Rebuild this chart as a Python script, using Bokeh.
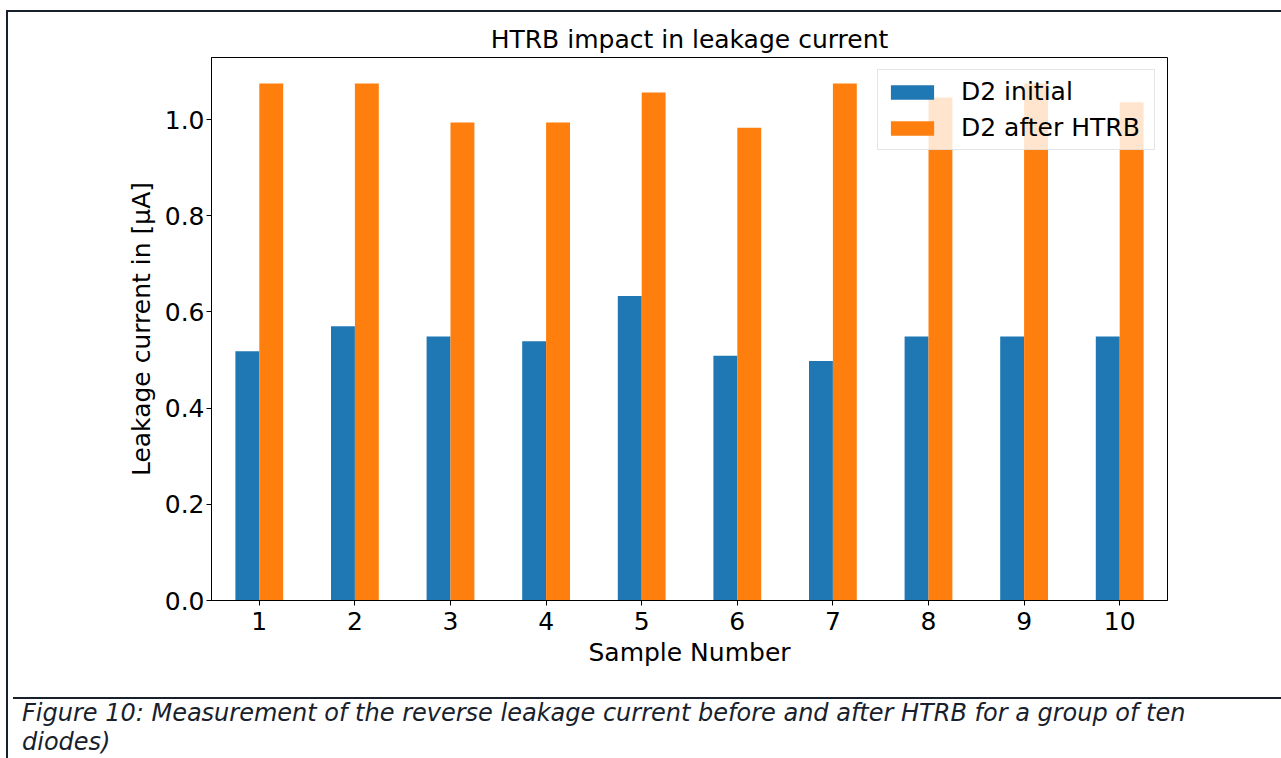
from bokeh.plotting import figure
from bokeh.models import (ColumnDataSource, FactorRange, Range1d, FixedTicker,
                          NumeralTickFormatter, Div)
from bokeh.layouts import column
from bokeh.transform import dodge
from bokeh.embed import file_html
from bokeh.resources import INLINE

# ---- data ----
samples = ["1", "2", "3", "4", "5", "6", "7", "8", "9", "10"]
d2_initial = [0.518, 0.570, 0.549, 0.539, 0.633, 0.509, 0.498, 0.549, 0.549, 0.549]
d2_after_htrb = [1.075, 1.075, 0.994, 0.994, 1.056, 0.983, 1.075, 1.046, 1.075, 1.036]
series_names = ["D2 initial", "D2 after HTRB"]
series_colors = ["#1f77b4", "#ff7f0e"]
y_ticks = [0.0, 0.2, 0.4, 0.6, 0.8, 1.0]
title_text = "HTRB impact in leakage current"
x_label = "Sample Number"
y_label = "Leakage current in [\u03bcA]"
caption_lines = [
    "Figure 10: Measurement of the reverse leakage current before and after HTRB for a group of ten",
    "diodes)",
]

FONT = "DejaVu Sans"
FS = "25px"
DARK = "#18212b"

src = ColumnDataSource(dict(sample=samples, initial=d2_initial, after=d2_after_htrb))

p = figure(width=1273, height=680,
           x_range=FactorRange(factors=samples, range_padding=0),
           y_range=Range1d(0, 1.129),
           output_backend="svg", toolbar_location=None,
           min_border_left=203, min_border_right=114,
           min_border_top=45, min_border_bottom=92)

p.vbar(x=dodge("sample", -0.125, range=p.x_range), top="initial", width=0.25,
       source=src, color=series_colors[0], line_color=None, legend_label=series_names[0])
p.vbar(x=dodge("sample", 0.125, range=p.x_range), top="after", width=0.25,
       source=src, color=series_colors[1], line_color=None, legend_label=series_names[1])

p.xgrid.visible = False
p.ygrid.visible = False
p.background_fill_color = "white"
p.border_fill_color = "white"
p.outline_line_color = "black"
p.outline_line_alpha = 1
p.outline_line_width = 1

p.title.text = title_text
p.title.align = "center"
p.title.text_font = FONT
p.title.text_font_size = FS
p.title.text_font_style = "normal"
p.title.text_color = "black"
p.title.standoff = 8

for ax in (p.xaxis[0], p.yaxis[0]):
    ax.major_label_text_font = FONT
    ax.major_label_text_font_size = FS
    ax.major_label_text_color = "black"
    ax.axis_label_text_font = FONT
    ax.axis_label_text_font_size = FS
    ax.axis_label_text_font_style = "normal"
    ax.axis_label_text_color = "black"
    ax.axis_line_color = "black"
    ax.major_tick_line_color = "black"
    ax.major_tick_out = 5
    ax.major_tick_in = 0
    ax.minor_tick_line_color = None

p.xaxis.axis_label = x_label
p.xaxis.major_label_standoff = 6
p.xaxis.axis_label_standoff = 5
p.yaxis.axis_label = y_label
p.yaxis.major_label_standoff = 2
p.yaxis.axis_label_standoff = 6
p.yaxis.ticker = FixedTicker(ticks=y_ticks)
p.yaxis.formatter = NumeralTickFormatter(format="0.0")

lg = p.legend[0]
lg.location = "top_right"
lg.margin = 12
lg.padding = 7
lg.spacing = 7
lg.glyph_width = 54
lg.glyph_height = 18
lg.label_standoff = 22
lg.label_width = 186
lg.label_text_font = FONT
lg.label_text_font_size = FS
lg.label_text_color = "black"
lg.border_line_color = "#cccccc"
lg.border_line_width = 1
lg.background_fill_color = "white"
lg.background_fill_alpha = 0.8

caption_html = (
    f'<div style="font-family:\'DejaVu Sans\';font-style:italic;font-size:24px;'
    f'line-height:29px;color:{DARK};padding-left:9px;white-space:nowrap;">'
    + "<br>".join(caption_lines) + "</div>"
)
cap = Div(text=caption_html, width=1273, height=59,
          styles={"border-top": f"2px solid {DARK}"})

layout = column(p, cap, spacing=0,
                styles={"margin-left": "6px", "margin-top": "10px",
                        "border-left": f"2px solid {DARK}",
                        "border-top": f"2px solid {DARK}"})
open("out.html", "w").write(file_html(layout, INLINE))
